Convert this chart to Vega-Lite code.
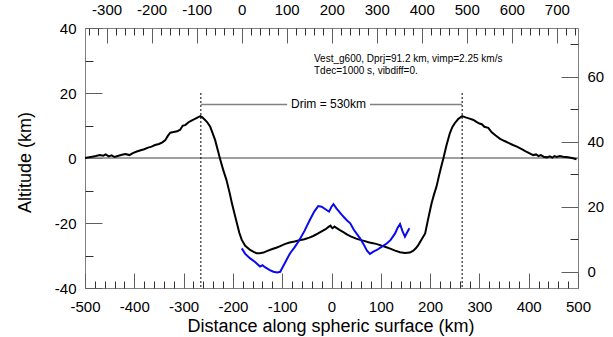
{
  "$schema": "https://vega.github.io/schema/vega-lite/v6.json",
  "width": 493,
  "height": 260,
  "autosize": {"type": "none"},
  "padding": {"left": 85, "top": 28, "right": 35, "bottom": 49},
  "background": "white",
  "config": {
    "view": {"stroke": "#808080", "strokeWidth": 1},
    "axis": {
      "grid": false,
      "domain": false,
      "labelFont": "Liberation Sans",
      "titleFont": "Liberation Sans",
      "labelFontSize": 15,
      "labelColor": "#000000",
      "titleColor": "#000000",
      "titleFontWeight": "normal",
      "tickColor": "#606060",
      "tickWidth": 1,
      "labelFlush": false,
      "labelOverlap": false,
      "labelBound": false
    },
    "axisX": {"labelFlush": false},
    "axisY": {"labelFlush": false},
    "text": {"font": "Liberation Sans"}
  },
  "datasets": {
    "rim_profile": [
      {"km": -500, "alt": 0.0}, {"km": -492, "alt": 0.2}, {"km": -485, "alt": 0.4}, {"km": -478, "alt": 0.6},
      {"km": -470, "alt": 0.9}, {"km": -463, "alt": 0.7}, {"km": -458, "alt": 1.1}, {"km": -452, "alt": 0.5},
      {"km": -446, "alt": 0.8}, {"km": -440, "alt": 0.3}, {"km": -432, "alt": 0.7}, {"km": -425, "alt": 1.0},
      {"km": -418, "alt": 1.2}, {"km": -410, "alt": 0.9}, {"km": -403, "alt": 1.5}, {"km": -395, "alt": 2.0},
      {"km": -387, "alt": 2.4}, {"km": -380, "alt": 2.7}, {"km": -372, "alt": 3.2}, {"km": -365, "alt": 3.5},
      {"km": -358, "alt": 4.0}, {"km": -350, "alt": 4.3}, {"km": -343, "alt": 4.8}, {"km": -337, "alt": 5.5},
      {"km": -332, "alt": 6.8}, {"km": -327, "alt": 7.8}, {"km": -320, "alt": 8.0}, {"km": -313, "alt": 8.2},
      {"km": -307, "alt": 8.7}, {"km": -302, "alt": 9.9}, {"km": -296, "alt": 10.2}, {"km": -290, "alt": 11.0},
      {"km": -283, "alt": 11.6}, {"km": -276, "alt": 12.1}, {"km": -270, "alt": 12.6}, {"km": -266, "alt": 12.9},
      {"km": -262, "alt": 12.5}, {"km": -257, "alt": 11.8}, {"km": -252, "alt": 11.0}, {"km": -246, "alt": 9.6},
      {"km": -241, "alt": 7.6}, {"km": -236, "alt": 5.5}, {"km": -231, "alt": 2.6}, {"km": -226, "alt": -0.3},
      {"km": -220, "alt": -3.5}, {"km": -213, "alt": -6.8}, {"km": -207, "alt": -10.5}, {"km": -202, "alt": -13.9},
      {"km": -197, "alt": -17.0}, {"km": -192, "alt": -20.0}, {"km": -187, "alt": -23.0}, {"km": -182, "alt": -25.2},
      {"km": -175, "alt": -27.0}, {"km": -165, "alt": -28.3}, {"km": -158, "alt": -28.9}, {"km": -152, "alt": -29.3},
      {"km": -145, "alt": -29.3}, {"km": -138, "alt": -29.1}, {"km": -130, "alt": -28.6}, {"km": -120, "alt": -28.0},
      {"km": -112, "alt": -27.6}, {"km": -104, "alt": -27.1}, {"km": -95, "alt": -26.5}, {"km": -85, "alt": -26.0},
      {"km": -75, "alt": -25.7}, {"km": -65, "alt": -25.3}, {"km": -55, "alt": -25.0}, {"km": -45, "alt": -24.5},
      {"km": -37, "alt": -24.0}, {"km": -28, "alt": -23.3}, {"km": -20, "alt": -22.6}, {"km": -12, "alt": -21.9},
      {"km": -6, "alt": -21.2}, {"km": -2, "alt": -20.8}, {"km": 0, "alt": -21.3}, {"km": 2, "alt": -21.6},
      {"km": 4, "alt": -21.4}, {"km": 6, "alt": -21.1}, {"km": 10, "alt": -21.5}, {"km": 17, "alt": -22.2},
      {"km": 24, "alt": -22.8}, {"km": 32, "alt": -23.6}, {"km": 40, "alt": -24.2}, {"km": 50, "alt": -24.8},
      {"km": 58, "alt": -25.2}, {"km": 66, "alt": -25.5}, {"km": 75, "alt": -25.9}, {"km": 84, "alt": -26.2},
      {"km": 92, "alt": -26.5}, {"km": 100, "alt": -26.9}, {"km": 110, "alt": -27.4}, {"km": 119, "alt": -27.9},
      {"km": 129, "alt": -28.5}, {"km": 139, "alt": -29.0}, {"km": 149, "alt": -29.2}, {"km": 159, "alt": -29.1},
      {"km": 166, "alt": -28.5}, {"km": 171, "alt": -27.8}, {"km": 176, "alt": -26.8}, {"km": 183, "alt": -25.0},
      {"km": 190, "alt": -23.2}, {"km": 195, "alt": -19.5}, {"km": 200, "alt": -16.0}, {"km": 203, "alt": -13.9},
      {"km": 208, "alt": -11.2}, {"km": 213, "alt": -8.8}, {"km": 218, "alt": -5.5}, {"km": 222, "alt": -3.0},
      {"km": 227, "alt": -0.1}, {"km": 233, "alt": 3.8}, {"km": 240, "alt": 7.6}, {"km": 245, "alt": 9.5},
      {"km": 250, "alt": 10.7}, {"km": 257, "alt": 12.0}, {"km": 265, "alt": 12.9}, {"km": 272, "alt": 12.5},
      {"km": 280, "alt": 12.1}, {"km": 288, "alt": 11.7}, {"km": 294, "alt": 11.1}, {"km": 300, "alt": 10.6},
      {"km": 305, "alt": 10.4}, {"km": 310, "alt": 9.6}, {"km": 318, "alt": 9.3}, {"km": 325, "alt": 7.9},
      {"km": 333, "alt": 6.9}, {"km": 342, "alt": 5.9}, {"km": 350, "alt": 5.3}, {"km": 360, "alt": 4.6},
      {"km": 368, "alt": 4.0}, {"km": 376, "alt": 3.5}, {"km": 385, "alt": 2.8}, {"km": 393, "alt": 2.1},
      {"km": 400, "alt": 1.6}, {"km": 409, "alt": 0.9}, {"km": 415, "alt": 1.1}, {"km": 420, "alt": 0.6},
      {"km": 425, "alt": 0.9}, {"km": 430, "alt": 0.4}, {"km": 437, "alt": 0.2}, {"km": 443, "alt": 0.5},
      {"km": 448, "alt": 0.1}, {"km": 452, "alt": 0.6}, {"km": 457, "alt": 0.3}, {"km": 463, "alt": 0.6},
      {"km": 470, "alt": 0.4}, {"km": 480, "alt": 0.2}, {"km": 490, "alt": -0.1}, {"km": 497, "alt": -0.4}
    ],
    "blue_profile": [
      {"km": -182, "alt": -27.8}, {"km": -175, "alt": -29.5}, {"km": -165, "alt": -30.9}, {"km": -155, "alt": -32.0},
      {"km": -145, "alt": -33.4}, {"km": -140, "alt": -33.0}, {"km": -135, "alt": -33.6}, {"km": -125, "alt": -34.5},
      {"km": -118, "alt": -35.0}, {"km": -110, "alt": -35.2}, {"km": -104, "alt": -35.0}, {"km": -97, "alt": -33.0},
      {"km": -90, "alt": -31.0}, {"km": -84, "alt": -29.3}, {"km": -75, "alt": -27.5}, {"km": -67, "alt": -25.7},
      {"km": -55, "alt": -22.5}, {"km": -44, "alt": -19.1}, {"km": -35, "alt": -16.5}, {"km": -27, "alt": -14.8},
      {"km": -20, "alt": -15.0}, {"km": -10, "alt": -16.0}, {"km": -5, "alt": -16.5}, {"km": 0, "alt": -15.0},
      {"km": 4, "alt": -14.2}, {"km": 10, "alt": -15.5}, {"km": 21, "alt": -17.5}, {"km": 30, "alt": -19.0},
      {"km": 38, "alt": -20.1}, {"km": 45, "alt": -22.0}, {"km": 52, "alt": -23.5}, {"km": 58, "alt": -24.7},
      {"km": 65, "alt": -26.5}, {"km": 72, "alt": -28.5}, {"km": 78, "alt": -29.5}, {"km": 85, "alt": -28.8},
      {"km": 92, "alt": -28.3}, {"km": 100, "alt": -27.5}, {"km": 112, "alt": -26.3}, {"km": 120, "alt": -25.2},
      {"km": 129, "alt": -23.2}, {"km": 134, "alt": -21.5}, {"km": 139, "alt": -20.3}, {"km": 144, "alt": -22.5},
      {"km": 149, "alt": -24.2}, {"km": 153, "alt": -23.0}, {"km": 158, "alt": -21.6}
    ],
    "rim_crest": [{"km": -265, "top": 20, "bottom": -40}, {"km": 265, "top": 20, "bottom": -40}],
    "drim_line": [{"from": -265, "to": -90, "alt": 16.5}, {"from": 78, "to": 265, "alt": 16.5}],
    "drim_label": [{"km": -6, "alt": 16.5, "label": "Drim = 530km"}],
    "notes": [
      {"km": -35.5, "alt": 29.5, "label": "Vest_g600, Dprj=91.2 km, vimp=2.25 km/s"},
      {"km": -35.5, "alt": 26.0, "label": "Tdec=1000 s, vibdiff=0."}
    ],
    "one": [{}]
  },
  "resolve": {
    "scale": {"x": "independent", "y": "independent"},
    "axis": {"x": "independent", "y": "independent"}
  },
  "layer": [
    {
      "layer": [
        {
          "data": {"name": "one"},
          "mark": {"type": "rule", "color": "#808080", "strokeWidth": 1.5},
          "encoding": {
            "y": {"datum": 0, "type": "quantitative", "scale": {"domain": [-40, 40], "nice": false, "zero": false}}
          }
        },
        {
          "data": {"name": "rim_crest"},
          "mark": {"type": "rule", "color": "#000000", "strokeWidth": 1, "strokeDash": [2, 2]},
          "encoding": {
            "x": {"field": "km", "type": "quantitative"},
            "y": {"field": "top", "type": "quantitative"},
            "y2": {"field": "bottom"}
          }
        },
        {
          "data": {"name": "drim_line"},
          "mark": {"type": "rule", "color": "#808080", "strokeWidth": 1.5},
          "encoding": {
            "x": {"field": "from", "type": "quantitative"},
            "x2": {"field": "to"},
            "y": {"field": "alt", "type": "quantitative"}
          }
        },
        {
          "data": {"name": "rim_profile"},
          "mark": {"type": "line", "color": "#000000", "strokeWidth": 2},
          "encoding": {
            "x": {
              "field": "km", "type": "quantitative",
              "scale": {"domain": [-500, 500], "nice": false, "zero": false},
              "axis": {
                "orient": "bottom",
                "values": [-500, -400, -300, -200, -100, 0, 100, 200, 300, 400, 500],
                "tickSize": -15,
                "labelPadding": 26,
                "labelFlush": false,
                "labelExpr": "datum.value + ''",
                "title": "Distance along spheric surface (km)",
                "titleFontSize": 18,
                "titleX": 245.5,
                "titleY": 43,
                "titleAlign": "center",
                "titleBaseline": "alphabetic"
              }
            },
            "y": {
              "field": "alt", "type": "quantitative",
              "axis": {
                "orient": "left",
                "values": [-40, -20, 0, 20, 40],
                "tickSize": -17,
                "labelPadding": 26,
                "labelFlush": false,
                "labelExpr": "datum.value + ''",
                "title": "Altitude (km)",
                "titleFontSize": 18,
                "titleX": -60,
                "titleY": 134,
                "titleAngle": -90,
                "titleAlign": "center",
                "titleBaseline": "middle"
              }
            }
          }
        },
        {
          "data": {"name": "blue_profile"},
          "mark": {"type": "line", "color": "#0a0af0", "strokeWidth": 2},
          "encoding": {
            "x": {"field": "km", "type": "quantitative"},
            "y": {"field": "alt", "type": "quantitative"}
          }
        },
        {
          "data": {"name": "drim_label"},
          "mark": {"type": "text", "fontSize": 12, "align": "center", "baseline": "middle", "color": "#000000"},
          "encoding": {
            "x": {"field": "km", "type": "quantitative"},
            "y": {"field": "alt", "type": "quantitative"},
            "text": {"field": "label"}
          }
        },
        {
          "data": {"name": "notes"},
          "mark": {"type": "text", "fontSize": 10, "align": "left", "baseline": "alphabetic", "color": "#000000"},
          "encoding": {
            "x": {"field": "km", "type": "quantitative"},
            "y": {"field": "alt", "type": "quantitative"},
            "text": {"field": "label"}
          }
        }
      ]
    },
    {
      "data": {"name": "one"},
      "mark": {"type": "point", "opacity": 0},
      "encoding": {
        "x": {
          "datum": 0, "type": "quantitative",
          "scale": {"domain": [-500, 500], "nice": false, "zero": false},
          "axis": {
            "orient": "bottom",
            "values": [-480, -460, -440, -420, -380, -360, -340, -320, -280, -260, -240, -220, -180, -160, -140, -120, -80, -60, -40, -20, 20, 40, 60, 80, 120, 140, 160, 180, 220, 240, 260, 280, 320, 340, 360, 380, 420, 440, 460, 480],
            "tickSize": -7,
            "tickColor": "#303030",
            "labels": false,
            "title": null
          }
        },
        "y": {
          "datum": 0, "type": "quantitative",
          "scale": {"domain": [-40, 40], "nice": false, "zero": false},
          "axis": {
            "orient": "left",
            "values": [-30, -10, 10, 30],
            "tickSize": -8,
            "tickColor": "#303030",
            "labels": false,
            "title": null
          }
        }
      }
    },
    {
      "data": {"name": "one"},
      "mark": {"type": "point", "opacity": 0},
      "encoding": {
        "x": {
          "datum": 0, "type": "quantitative",
          "scale": {"domain": [-348, 747], "nice": false, "zero": false},
          "axis": {
            "orient": "top",
            "values": [-300, -200, -100, 0, 100, 200, 300, 400, 500, 600, 700],
            "tickSize": -15,
            "labelPadding": 26,
            "labelFlush": false,
            "labelExpr": "datum.value + ''",
            "title": null
          }
        },
        "y": {
          "datum": 0, "type": "quantitative",
          "scale": {"domain": [-5, 75], "nice": false, "zero": false},
          "axis": {
            "orient": "right",
            "values": [0, 20, 40, 60],
            "tickSize": -17,
            "labelPadding": 26,
            "labelFlush": false,
            "labelExpr": "datum.value + ''",
            "title": null
          }
        }
      }
    },
    {
      "data": {"name": "one"},
      "mark": {"type": "point", "opacity": 0},
      "encoding": {
        "x": {
          "datum": 0, "type": "quantitative",
          "scale": {"domain": [-348, 747], "nice": false, "zero": false},
          "axis": {
            "orient": "top",
            "values": [-340, -320, -280, -260, -240, -220, -180, -160, -140, -120, -80, -60, -40, -20, 20, 40, 60, 80, 120, 140, 160, 180, 220, 240, 260, 280, 320, 340, 360, 380, 420, 440, 460, 480, 520, 540, 560, 580, 620, 640, 660, 680, 720, 740],
            "tickSize": -7,
            "tickColor": "#303030",
            "labels": false,
            "title": null
          }
        },
        "y": {
          "datum": 0, "type": "quantitative",
          "scale": {"domain": [-5, 75], "nice": false, "zero": false},
          "axis": {
            "orient": "right",
            "values": [10, 30, 50, 70],
            "tickSize": -8,
            "tickColor": "#303030",
            "labels": false,
            "title": null
          }
        }
      }
    }
  ]
}
